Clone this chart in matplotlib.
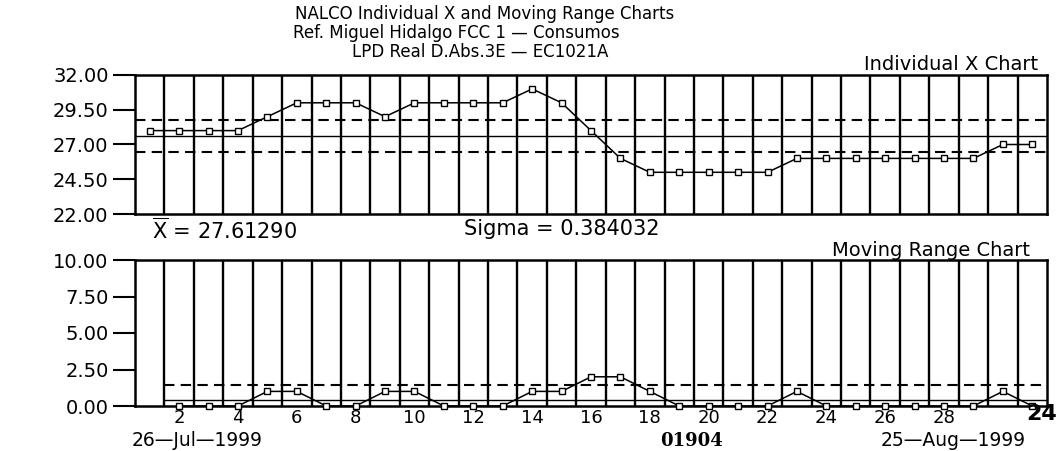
import numpy as np
import matplotlib.pyplot as plt

# daily readings, 26-Jul-1999 .. 25-Aug-1999
day_index = np.arange(1, 32)
x_values = [28, 28, 28, 28, 29, 30, 30, 30, 29, 30, 30, 30, 30, 31, 30, 28,
            26, 25, 25, 25, 25, 25, 26, 26, 26, 26, 26, 26, 26, 27, 27]

# moving ranges start at the second day
mr_index = np.arange(2, 32)
mr_values = [0, 0, 0, 1, 1, 0, 0, 1, 1, 0, 0, 0, 1, 1, 2, 2, 1, 0, 0, 0,
             0, 1, 0, 0, 0, 0, 0, 0, 1, 0]

x_bar = 27.61290
sigma = 0.384032

x_ticks = [22.0, 24.5, 27.0, 29.5, 32.0]
mr_ticks = [0.0, 2.5, 5.0, 7.5, 10.0]
day_ticks = list(range(2, 30, 2))

title_lines = ["NALCO Individual X and Moving Range Charts",
               "Ref. Miguel Hidalgo FCC 1 \u2014 Consumos",
               "LPD Real D.Abs.3E \u2014 EC1021A"]

# control limits
ucl = x_bar + 3 * sigma
lcl = x_bar - 3 * sigma
mr_bar = 1.128 * sigma
mr_ucl = 3.267 * mr_bar

W, H = 1058, 451
plt.rcParams['font.family'] = ['DejaVu Sans']

fig = plt.figure(figsize=(W / 100, H / 100), dpi=100)
fig.patch.set_facecolor('white')


def px_axes(left, top, right, bottom):
    return fig.add_axes([left / W, 1 - bottom / H, (right - left) / W, (bottom - top) / H])


ax1 = px_axes(135, 75, 1047, 214)
ax2 = px_axes(135, 260, 1047, 406)

for ax in (ax1, ax2):
    ax.set_xlim(0.5, 31.5)
    for b in np.arange(1.5, 31.5, 1.0):
        ax.axvline(b, color='black', lw=1.7, zorder=1)
    for s in ax.spines.values():
        s.set_linewidth(1.8)
    ax.tick_params(axis='y', direction='out', length=16, width=1.5, pad=3,
                   labelsize=14)
    ax.tick_params(axis='x', length=0)

# Individual X chart
ax1.set_ylim(22, 32)
ax1.set_yticks(x_ticks)
ax1.set_yticklabels([f"{v:.2f}" for v in x_ticks])
ax1.set_xticks([])
ax1.axhline(x_bar, color='black', lw=1.0, zorder=2)
ax1.axhline(ucl, color='black', lw=1.5, ls=(0, (5, 3)), zorder=2)
ax1.axhline(lcl, color='black', lw=1.5, ls=(0, (5, 3)), zorder=2)
ax1.plot(day_index, x_values, color='black', lw=1.1, marker='s', ms=4.5,
         mfc='white', mec='black', mew=1.0, zorder=3)

# Moving range chart
ax2.set_ylim(0, 10)
ax2.set_yticks(mr_ticks)
ax2.set_yticklabels([f"{v:.2f}" for v in mr_ticks])
ax2.set_xticks(day_ticks)
ax2.set_xticklabels([str(d) for d in day_ticks], fontsize=13)
ax2.tick_params(axis='x', pad=2)
ax2.hlines([mr_bar], 1.5, 31.5, color='black', lw=1.0, zorder=2)
ax2.hlines([mr_ucl], 1.5, 31.5, color='black', lw=1.5, ls=(0, (5, 3)), zorder=2)
ax2.plot(mr_index, mr_values, color='black', lw=1.1, marker='s', ms=4.5,
         mfc='white', mec='black', mew=1.0, zorder=3, clip_on=False)


def put(x, y, s, **kw):
    fig.text(x / W, 1 - y / H, s, **kw)


title_x = [485, 456, 480]
title_y = [14, 33, 52]
for s, tx, ty in zip(title_lines, title_x, title_y):
    put(tx, ty, s, ha='center', va='center', fontsize=12)

put(1038, 65, "Individual X Chart", ha='right', va='center', fontsize=14)
put(1030, 250, "Moving Range Chart", ha='right', va='center', fontsize=14)
put(152, 230, r"$\overline{\mathrm{X}}$ = " + f"{x_bar:.5f}", ha='left', va='center',
    fontsize=15)
put(464, 229, f"Sigma = {sigma:.6f}", ha='left', va='center', fontsize=15)
put(132, 441, "26\u2014Jul\u20141999", ha='left', va='center', fontsize=13.5)
put(1026, 441, "25\u2014Aug\u20141999", ha='right', va='center', fontsize=13.5)
put(660, 441, "01904", ha='left', va='center', fontsize=13, fontweight='bold',
    family='DejaVu Serif')
put(1057, 414, "24", ha='right', va='center', fontsize=16, fontweight='bold')

fig.savefig('out.png', dpi=100, facecolor='white')
